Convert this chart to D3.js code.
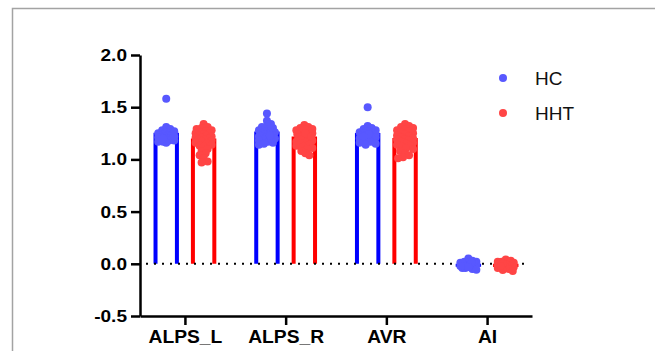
<!DOCTYPE html>
<html><head><meta charset="utf-8">
<script src="https://cdn.jsdelivr.net/npm/d3@7"></script>
<style>
html,body{margin:0;padding:0;background:#fff;}
svg{display:block;font-family:"Liberation Sans",Arial,sans-serif;}
</style></head>
<body>
<svg id="chart" width="655" height="351"></svg>
<script>
const categories = ["ALPS_L", "ALPS_R", "AVR", "AI"];
const groups = ["HC", "HHT"];
const yTicks = [-0.5, 0.0, 0.5, 1.0, 1.5, 2.0];

const hcALPS_L = [1.58, 1.31, 1.29, 1.28, 1.27, 1.26, 1.25, 1.25, 1.24, 1.24, 1.23, 1.23, 1.22, 1.22, 1.21, 1.21, 1.20, 1.20, 1.19, 1.19, 1.18, 1.18, 1.17, 1.17, 1.16, 1.22, 1.20];
const hhtALPS_L = [1.34, 1.31, 1.30, 1.29, 1.28, 1.27, 1.26, 1.25, 1.25, 1.24, 1.23, 1.23, 1.22, 1.21, 1.21, 1.20, 1.19, 1.19, 1.18, 1.17, 1.16, 1.15, 1.14, 1.13, 1.12, 1.10, 1.08, 1.06, 1.04, 1.01, 0.98, 0.97];
const hcALPS_R = [1.44, 1.37, 1.34, 1.32, 1.31, 1.30, 1.29, 1.28, 1.27, 1.26, 1.26, 1.25, 1.24, 1.24, 1.23, 1.22, 1.22, 1.21, 1.20, 1.19, 1.18, 1.17, 1.16, 1.15, 1.14, 1.20, 1.23];
const hhtALPS_R = [1.33, 1.31, 1.30, 1.29, 1.28, 1.27, 1.26, 1.25, 1.24, 1.23, 1.22, 1.21, 1.21, 1.20, 1.19, 1.18, 1.17, 1.16, 1.15, 1.14, 1.13, 1.12, 1.11, 1.10, 1.08, 1.06, 1.04, 1.29, 1.25, 1.22];
const hcAVR = [1.50, 1.32, 1.30, 1.29, 1.28, 1.27, 1.26, 1.25, 1.25, 1.24, 1.23, 1.23, 1.22, 1.22, 1.21, 1.21, 1.20, 1.20, 1.19, 1.19, 1.18, 1.17, 1.16, 1.15, 1.14, 1.24, 1.22];
const hhtAVR = [1.34, 1.32, 1.31, 1.30, 1.29, 1.28, 1.27, 1.26, 1.25, 1.24, 1.23, 1.22, 1.21, 1.20, 1.19, 1.19, 1.18, 1.17, 1.16, 1.15, 1.14, 1.13, 1.12, 1.11, 1.10, 1.08, 1.06, 1.04, 1.02, 1.01];
const hcAI = [0.05, 0.03, 0.02, 0.02, 0.01, 0.01, 0.00, 0.00, -0.01, -0.01, -0.01, -0.02, -0.02, -0.03, -0.03, -0.04, -0.04, -0.05, -0.056, 0.00, -0.02, 0.01, -0.03];
const hhtAI = [0.04, 0.03, 0.02, 0.02, 0.01, 0.01, 0.00, 0.00, 0.00, -0.01, -0.01, -0.02, -0.02, -0.03, -0.03, -0.04, -0.05, -0.06, -0.07, -0.01, 0.00, -0.02];

const seriesValues = {
  HC: [hcALPS_L, hcALPS_R, hcAVR, hcAI],
  HHT: [hhtALPS_L, hhtALPS_R, hhtAVR, hhtAI]
};
const barColor = {HC: "#0000ff", HHT: "#ff0000"};
const dotColor = {HC: "#5858ff", HHT: "#ff4545"};

const svg = d3.select("#chart");

// frame
svg.append("rect").attr("x", 12.5).attr("y", 8.5).attr("width", 700).attr("height", 400)
  .attr("fill", "none").attr("stroke", "#a3a3a3").attr("stroke-width", 1.5);

const x = d3.scalePoint().domain(categories).range([140, 532]).padding(0.446);
const gx = d3.scalePoint().domain(groups).range([-18.7, 18.7]);
const y = d3.scaleLinear().domain([-0.5, 2.0]).range([316, 55]);
const barW = 21.4;

function stretch(sel, f) {
  sel.each(function () {
    const w = this.getComputedTextLength();
    this.setAttribute("textLength", w * f);
    this.setAttribute("lengthAdjust", "spacingAndGlyphs");
  });
}

// bars
groups.forEach(g => {
  categories.forEach((c, i) => {
    const vals = seriesValues[g][i];
    const m = d3.mean(vals);
    const cx = x(c) + gx(g);
    const p = d3.path();
    p.moveTo(cx - barW / 2, y(0));
    p.lineTo(cx - barW / 2, y(m));
    p.lineTo(cx + barW / 2, y(m));
    p.lineTo(cx + barW / 2, y(0));
    svg.append("path").attr("d", p.toString()).attr("fill", "none")
      .attr("stroke", barColor[g]).attr("stroke-width", 4).attr("stroke-linejoin", "miter");
  });
});

// zero dotted line
svg.append("line").attr("x1", 146).attr("x2", 526).attr("y1", y(0)).attr("y2", y(0))
  .attr("stroke", "#000").attr("stroke-width", 2).attr("stroke-dasharray", "2,6");

// beeswarm points
function swarm(vals, maxOff, minD) {
  const pts = vals.map(v => ({v, py: y(v), dx: 0}));
  const order = pts.slice().sort((a, b) => a.py - b.py);
  const placed = [];
  order.forEach(p => {
    let best = 0, bestScore = -1;
    const cands = [0];
    for (let k = 1; k <= maxOff; k++) { cands.push(k, -k); }
    for (const c of cands) {
      let md = Infinity;
      for (const q of placed) {
        const d = Math.hypot(q.dx - c, q.py - p.py);
        if (d < md) md = d;
      }
      if (md >= minD) { best = c; bestScore = Infinity; break; }
      if (md > bestScore) { bestScore = md; best = c; }
    }
    p.dx = best;
    placed.push(p);
  });
  return pts;
}

groups.forEach(g => {
  categories.forEach((c, i) => {
    const cx = x(c) + gx(g);
    const pts = swarm(seriesValues[g][i], 8.5, 4.5);
    svg.append("g").selectAll("circle").data(pts).join("circle")
      .attr("cx", d => cx + d.dx).attr("cy", d => d.py).attr("r", 4)
      .attr("fill", dotColor[g]);
  });
});

// axes
const yAxis = svg.append("g").attr("transform", "translate(140,0)")
  .call(d3.axisLeft(y).tickValues(yTicks).tickFormat(d => d.toFixed(1)).tickSize(9).tickSizeOuter(0).tickPadding(4));
yAxis.selectAll("path,line").attr("stroke", "#000").attr("stroke-width", 2.5);
yAxis.selectAll("text").attr("font-size", 17).attr("font-weight", "bold")
  .attr("font-family", "Liberation Sans, Arial, sans-serif").attr("fill", "#000");
stretch(yAxis.selectAll("text"), 1.12);

const xAxis = svg.append("g").attr("transform", `translate(0,${y(-0.5)})`)
  .call(d3.axisBottom(x).tickSize(9).tickSizeOuter(0).tickPadding(6));
xAxis.selectAll("path,line").attr("stroke", "#000").attr("stroke-width", 2.5);
xAxis.selectAll("text").attr("font-size", 17.5).attr("font-weight", "bold")
  .attr("font-family", "Liberation Sans, Arial, sans-serif").attr("fill", "#000");
stretch(xAxis.selectAll("text"), 1.1);

// legend
const legend = svg.append("g");
groups.forEach((g, i) => {
  const ly = 78 + i * 35;
  legend.append("circle").attr("cx", 503).attr("cy", ly).attr("r", 4).attr("fill", dotColor[g]);
  legend.append("text").attr("x", 535).attr("y", ly + 7).attr("font-size", 19)
    .attr("fill", "#111").text(g);
});
</script>
</body></html>
